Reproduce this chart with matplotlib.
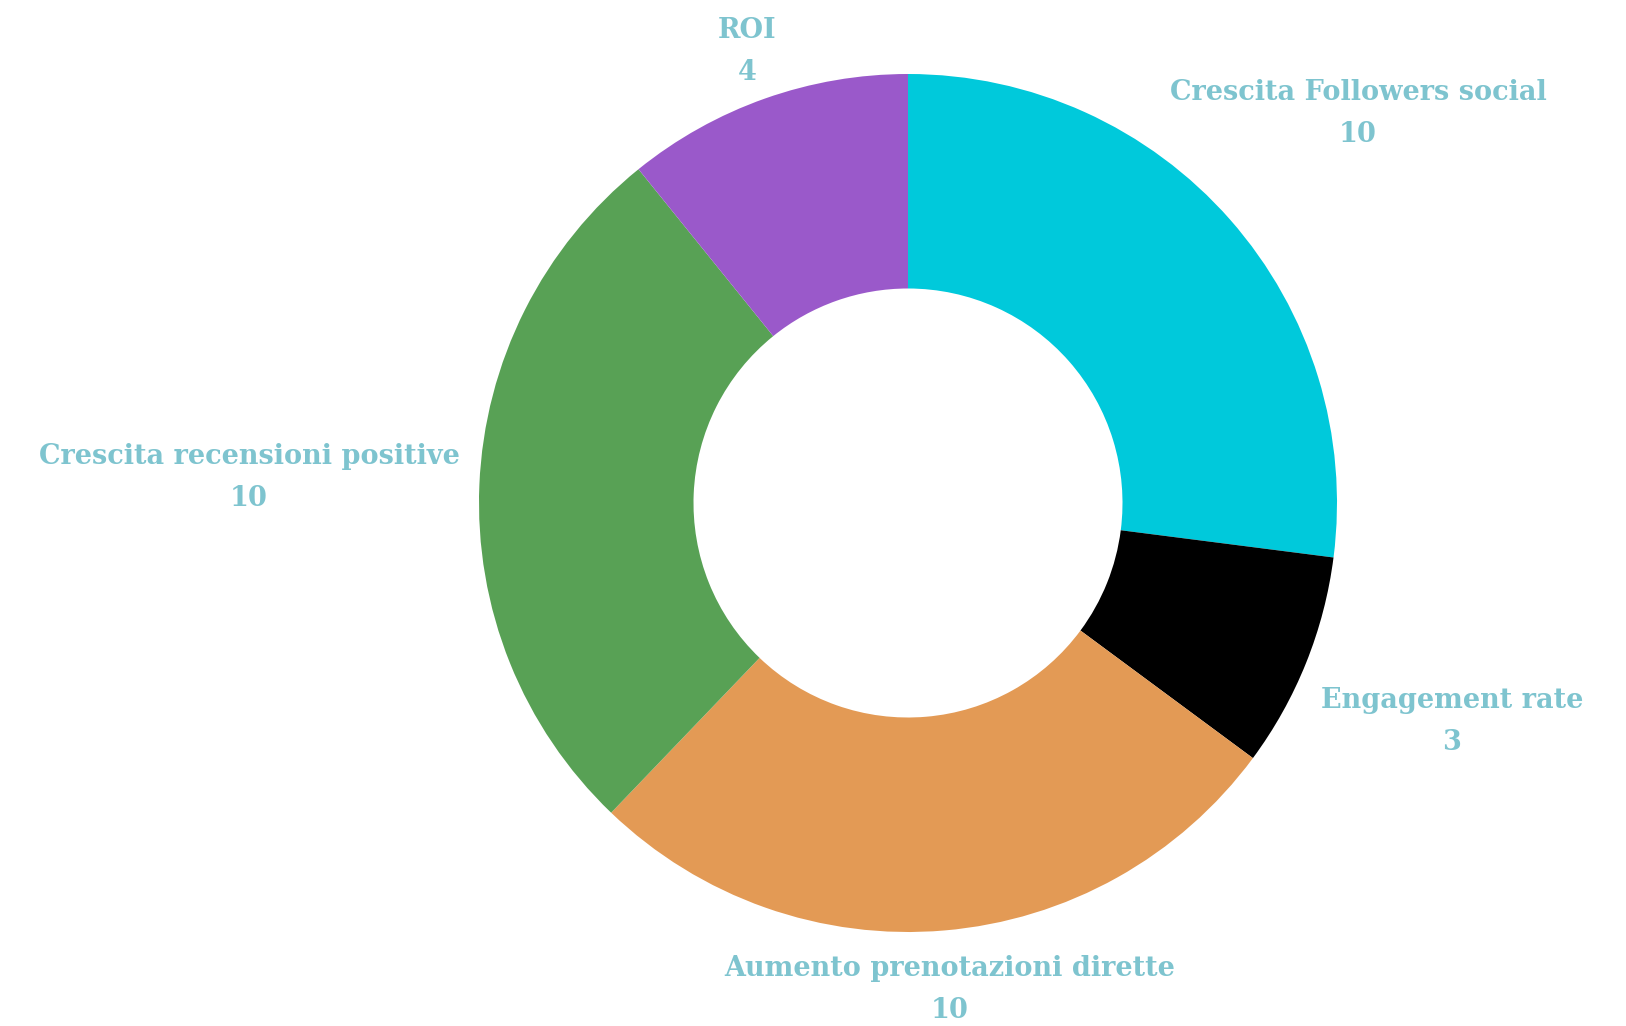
import matplotlib.pyplot as plt

# --- data ---
labels = ["Crescita Followers social", "Engagement rate", "Aumento prenotazioni dirette",
          "Crescita recensioni positive", "ROI"]
values = [10, 3, 10, 10, 4]
colors = ["#00C9DB", "#000000", "#E39A55", "#58A155", "#9A59CA"]

# label anchor positions in pixels (x, y from top) - layout only
label_pos = [(1358, 93), (1452, 701), (950, 968), (249, 456), (747, 31)]

W, H = 1626, 1026
fig = plt.figure(figsize=(W / 100, H / 100), dpi=100)
ax = fig.add_axes([0, 0, 1, 1])

cx, cy, R = 908, H - 503, 429
ax.pie(values, colors=colors, startangle=90, counterclock=False,
       center=(cx, cy), radius=R,
       wedgeprops=dict(width=R * 0.5, linewidth=0))
ax.set_xlim(0, W)
ax.set_ylim(0, H)
ax.set_aspect("equal")
ax.axis("off")

txt_kw = dict(ha="center", va="center", color="#7EC4CF", fontsize=19.5,
              fontweight="bold", family="DejaVu Serif")
for lab, v, (x, y) in zip(labels, values, label_pos):
    ax.text(x, H - y, lab, **txt_kw)
    ax.text(x, H - y - 42, str(v), **txt_kw)

fig.savefig("out.png", dpi=100, facecolor="white")
